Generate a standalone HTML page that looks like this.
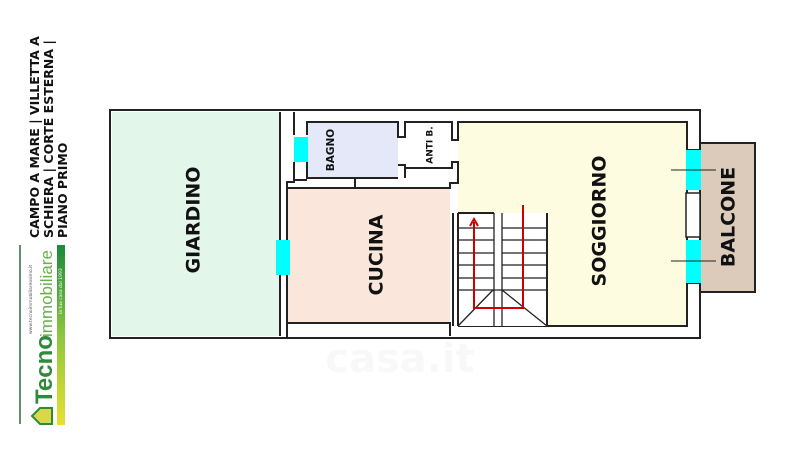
<!DOCTYPE html>
<html><head><style>body{margin:0;background:#fff}svg{display:block}</style></head><body>
<svg width="800" height="451" viewBox="0 0 800 451" xmlns="http://www.w3.org/2000/svg" font-family="'DejaVu Sans','Liberation Sans',sans-serif" font-weight="bold">
<defs><linearGradient id="g" x1="0" y1="1" x2="0" y2="0"><stop offset="0" stop-color="#e8e030"/><stop offset="0.5" stop-color="#8cc63f"/><stop offset="1" stop-color="#1a8a3a"/></linearGradient></defs>
<!-- header text -->
<g transform="translate(39,238) rotate(-90)" font-size="12.5" fill="#111">
<text x="0" y="0">CAMPO A MARE | VILLETTA A</text>
<text x="0" y="14">SCHIERA | CORTE ESTERNA |</text>
<text x="0" y="28">PIANO PRIMO</text>
</g>
<line x1="20" y1="245" x2="20" y2="424" stroke="#2a6a3a" stroke-width="1.5"/>
<rect x="57" y="245" width="8" height="180" fill="url(#g)"/>
<g transform="translate(52,424) rotate(-90)">
<text x="20" y="0" font-size="24" fill="#2e8b3a" font-family="'Liberation Sans',sans-serif">Tecno</text>
<text x="87" y="0" font-size="17" fill="#6ab04c" font-weight="normal" font-family="'Liberation Sans',sans-serif">immobiliare</text>
<text x="90" y="-20" font-size="4.5" fill="#555" font-weight="normal">www.tecnoimmobiliareosimo.it</text>
<text x="110" y="10" font-size="4.5" fill="#fff" font-weight="normal">la tua casa dal 1993</text>
<path d="M0 0 L0 -12 L8 -20 L16 -12 L16 0Z" fill="#d8d84a" stroke="#2e8b3a" stroke-width="2"/>
</g>
<!-- walls outer -->
<rect x="110" y="110" width="590" height="228" fill="#fff" stroke="#222" stroke-width="2"/>
<rect x="112" y="112" width="168" height="224" fill="#e3f6ea"/>
<!-- house interior -->
<rect x="288" y="188" width="162" height="135" fill="#fae6da"/>
<rect x="307" y="122" width="91" height="56" fill="#e4e8f8"/>
<rect x="458" y="122" width="229" height="204" fill="#fdfbe0"/>
<g fill="none" stroke="#222" stroke-width="2">
<polyline points="280,112 280,336"/>
<polyline points="294,112 294,135"/><polyline points="294,162 294,180"/>
<polyline points="307,135 307,122 398,122 398,137 405,137 405,122 452,122 452,140 458,140 458,122 687,122 687,326 458,326"/>
<polyline points="287,240 287,182 294,182 294,180 307,180"/>
<polyline points="287,275 287,338"/>
<polyline points="288,323 450,323 450,336"/>
<polyline points="307,162 307,178 355,178 355,188 288,188"/>
<polyline points="355,178 398,178"/><polyline points="398,165 405,165 405,168 452,168 452,162 458,162 458,183 450,183 450,188 355,188"/>
<polyline points="405,168 405,178"/>
<polyline points="687,150 700,150"/><polyline points="687,283 700,283"/>
</g>
<rect x="700" y="143" width="55" height="149" fill="#dccbbb" stroke="#222" stroke-width="2"/>
<rect x="686" y="193" width="14" height="44" fill="#fff" stroke="#222" stroke-width="1.5"/>
<!-- windows -->
<rect x="294" y="137" width="14" height="25" fill="#0ff"/>
<rect x="276" y="240" width="14" height="35" fill="#0ff"/>
<rect x="686" y="150" width="15" height="40" fill="#0ff"/>
<rect x="686" y="240" width="15" height="43" fill="#0ff"/>
<line x1="671" y1="170" x2="716" y2="170" stroke="#222"/>
<line x1="671" y1="261" x2="716" y2="261" stroke="#222"/>
<!-- stairs -->
<rect x="455" y="213" width="92" height="113" fill="#fff"/>
<g stroke="#222" stroke-width="1.3" fill="none">
<line x1="453" y1="213" x2="453" y2="326" stroke-width="2"/>
<line x1="458" y1="213" x2="458" y2="326" stroke-width="2"/>
<line x1="458" y1="213" x2="494" y2="213" stroke-width="2"/>
<line x1="494" y1="213" x2="494" y2="326"/><line x1="502" y1="213" x2="502" y2="326"/>
<line x1="547" y1="213" x2="547" y2="326" stroke-width="2"/>
<path d="M458 228H494M458 240H494M458 253H494M458 265H494M458 278H494M458 290H494"/>
<path d="M502 228H547M502 240H547M502 253H547M502 265H547M502 278H547M502 290H547"/>
<path d="M494 290H502M493 290L458 326M502 290L547 326"/>
</g>
<polyline points="474,222 474,308 523,308 523,205" fill="none" stroke="#c00" stroke-width="2"/>
<path d="M470 226 L474 219 L478 226" fill="none" stroke="#c00" stroke-width="2"/>
<!-- labels -->
<text transform="translate(194,220) rotate(-90)" text-anchor="middle" font-size="19" fill="#111" dominant-baseline="middle">GIARDINO</text>
<text transform="translate(377,255) rotate(-90)" text-anchor="middle" font-size="19" fill="#111" dominant-baseline="middle">CUCINA</text>
<text transform="translate(331,150) rotate(-90)" text-anchor="middle" font-size="10.5" fill="#111" dominant-baseline="middle">BAGNO</text>
<text transform="translate(430,145) rotate(-90)" text-anchor="middle" font-size="9" fill="#111" dominant-baseline="middle">ANTI B.</text>
<text transform="translate(600,221) rotate(-90)" text-anchor="middle" font-size="19" fill="#111" dominant-baseline="middle">SOGGIORNO</text>
<text transform="translate(729,217) rotate(-90)" text-anchor="middle" font-size="19" fill="#111" dominant-baseline="middle">BALCONE</text>
<text x="400" y="372" text-anchor="middle" font-size="40" fill="#000" opacity="0.025">casa.it</text>
</svg>
</body></html>
